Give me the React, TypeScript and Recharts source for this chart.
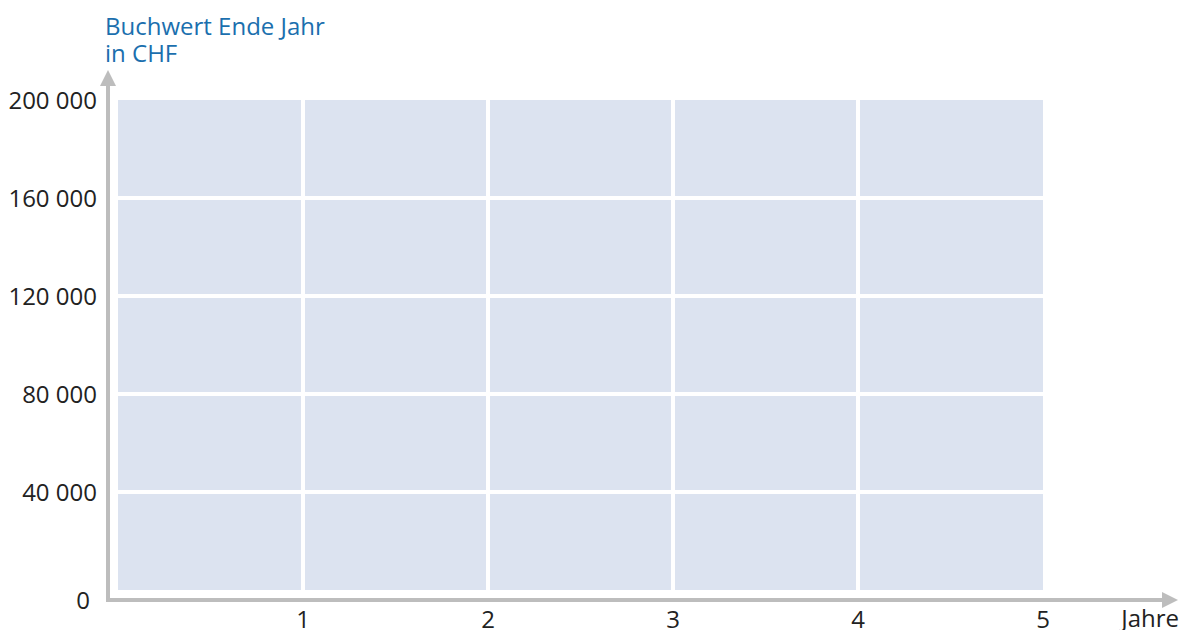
import React from 'react';
import { ComposedChart, XAxis, YAxis, CartesianGrid, Line, usePlotArea } from 'recharts';

const years = [0, 1, 2, 3, 4, 5];
const xTicks = [1, 2, 3, 4, 5];
const yTicks = [0, 40000, 80000, 120000, 160000, 200000];
const gridY = [40000, 80000, 120000, 160000];
const gridX = [1, 2, 3, 4];
const titleLines = ['Buchwert Ende Jahr', 'in CHF'];
const xAxisTitle = 'Jahre';
const data = years.map((y) => ({ year: y, value: null as number | null }));

const FONT = '"Open Sans", "Noto Sans", sans-serif';
const FS = 24;
const AXIS_GRAY = '#bdbdbd';
const TEXT = '#222222';
const BLUE = '#1b6fae';

const fmt = (v: number) => String(v).replace(/\B(?=(\d{3})+(?!\d))/g, ' ');

const YTick = (props: any) => {
  const { x, y, payload } = props;
  const isZero = payload.value === 0;
  return (
    <text
      x={isZero ? x - 7 : x}
      y={isZero ? y + 10 : y}
      dy="0.36em"
      textAnchor="end"
      fontFamily={FONT}
      fontSize={FS}
      fill={TEXT}
    >
      {fmt(payload.value)}
    </text>
  );
};

const Axes = () => {
  const plot = usePlotArea();
  if (!plot) return null;
  const ax = plot.x - 10;
  const ay = plot.y + plot.height + 10;
  const top = plot.y - 30;
  const right = 1178;
  return (
    <g>
      <line x1={ax} y1={ay} x2={ax} y2={top + 14} stroke={AXIS_GRAY} strokeWidth={4} />
      <polygon points={`${ax - 8},${top + 16} ${ax + 8},${top + 16} ${ax},${top}`} fill={AXIS_GRAY} />
      <line x1={ax - 2} y1={ay} x2={right - 14} y2={ay} stroke={AXIS_GRAY} strokeWidth={4} />
      <polygon points={`${right - 16},${ay - 8} ${right - 16},${ay + 8} ${right},${ay}`} fill={AXIS_GRAY} />
      <text x={1179} y={ay + 27} textAnchor="end" fontFamily={FONT} fontSize={FS} fill={TEXT}>
        {xAxisTitle}
      </text>
      {titleLines.map((t, i) => (
        <text key={t} x={105} y={35 + i * 27} fontFamily={FONT} fontSize={FS} fill={BLUE}>
          {t}
        </text>
      ))}
    </g>
  );
};

export default function App() {
  return (
    <div style={{ position: 'absolute', left: 0, top: 0 }}>
      <ComposedChart
        width={1180}
        height={630}
        data={data}
        margin={{ top: 100, right: 137, left: 0, bottom: 0 }}
      >
        <CartesianGrid
          fill="#dce3f0"
          stroke="#ffffff"
          strokeWidth={4}
          horizontalValues={gridY}
          verticalValues={gridX}
        />
        <XAxis
          dataKey="year"
          type="number"
          domain={[0, 5]}
          allowDataOverflow
          ticks={xTicks}
          axisLine={false}
          tickLine={false}
          tickSize={0}
          tickMargin={21}
          height={40}
          tick={{ fontFamily: FONT, fontSize: FS, fill: TEXT }}
        />
        <YAxis
          type="number"
          domain={[0, 200000]}
          allowDataOverflow
          ticks={yTicks}
          axisLine={false}
          tickLine={false}
          tickSize={0}
          width={118}
          tickMargin={21}
          tick={<YTick />}
          interval={0}
        />
        <Line dataKey="value" isAnimationActive={false} stroke="none" dot={false} />
        <Axes />
      </ComposedChart>
    </div>
  );
}
